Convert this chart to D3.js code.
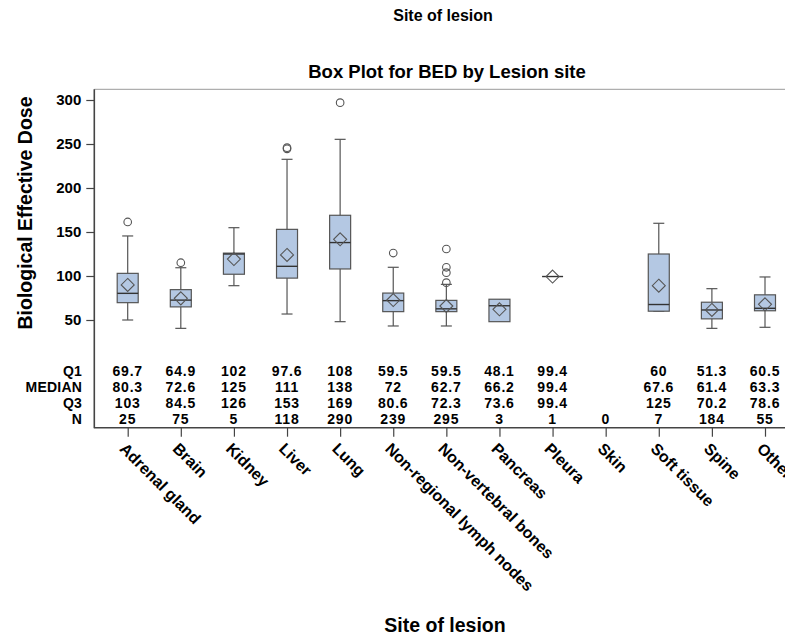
<!DOCTYPE html>
<html>
<head>
<meta charset="utf-8">
<script src="https://cdn.jsdelivr.net/npm/d3@7"></script>
<style>
  body { margin: 0; background: #fff; }
  text { font-family: "Liberation Sans", Arial, sans-serif; font-weight: bold; fill: #000; }
</style>
</head>
<body>
<svg id="graph" width="785" height="637"></svg>
<script>
// data
var sites = ["Adrenal gland", "Brain", "Kidney", "Liver", "Lung", "Non-regional lymph nodes",
    "Non-vertebral bones", "Pancreas", "Pleura", "Skin", "Soft tissue", "Spine", "Other"];
var q1 = [69.7, 64.9, 102, 97.6, 108, 59.5, 59.5, 48.1, 99.4, null, 60, 51.3, 60.5];
var median = [80.3, 72.6, 125, 111, 138, 72, 62.7, 66.2, 99.4, null, 67.6, 61.4, 63.3];
var q3 = [103, 84.5, 126, 153, 169, 80.6, 72.3, 73.6, 99.4, null, 125, 70.2, 78.6];
var counts = [25, 75, 5, 118, 290, 239, 295, 3, 1, 0, 7, 184, 55];
var whiskerLow = [50, 40.5, 89, 56.8, 48.1, 43.2, 43.2, 48.1, 99.4, null, 60, 40.5, 41.7];
var whiskerHigh = [145.5, 109.4, 154.9, 232.6, 255.3, 109.9, 90.5, 73.6, 99.4, null, 159.9, 85.6, 98.9];
var means = [89.8, 74.6, 119.3, 123.9, 141.7, 72.7, 65.9, 62.2, 99.4, null, 89, 61.4, 67.8];
var outliers = [[161.4], [115.1], [], [244.5, 245.8], [297], [126.1],
    [92.4, 103.8, 109.9, 130.7], [], [], [], [], [], []];
var yTicks = [50, 100, 150, 200, 250, 300];
var statRows = ["Q1", "MEDIAN", "Q3", "N"];

var fmt = function(v) {
    if (v === null) return "";
    return String(+v.toPrecision(3));
};

// plot frame (right edge falls outside the picture, as in the original)
var frameLeft = 94.3, frameTop = 89.3, frameBottom = 427.7, frameRight = 799;
var boxW = 21, capW = 11;

var x = d3.scalePoint().domain(sites).range([127.7, 765]);
var y = d3.scaleLinear().domain([50, 300]).range([320, 100]);

var fig = d3.select("#graph");

var rows = sites.map(function(s, i) {
    return {site: s, q1: q1[i], med: median[i], q3: q3[i], n: counts[i],
        lo: whiskerLow[i], hi: whiskerHigh[i], mean: means[i], out: outliers[i]};
});

// frame
fig.append("line").attr("x1", frameLeft).attr("x2", frameRight).attr("y1", frameTop).attr("y2", frameTop)
    .attr("stroke", "#9a9a9a").attr("stroke-width", 1);
fig.append("line").attr("x1", frameRight).attr("x2", frameRight).attr("y1", frameTop).attr("y2", frameBottom)
    .attr("stroke", "#9a9a9a");

// y axis
var yAxis = d3.axisLeft(y).tickValues(yTicks).tickSize(8).tickPadding(5).tickSizeOuter(0);
var gy = fig.append("g").attr("transform", "translate(" + frameLeft + ",0)").call(yAxis);
gy.select(".domain").remove();
gy.selectAll(".tick line").attr("stroke", "#444").attr("stroke-width", 1.2);
gy.selectAll(".tick text").style("font-size", "15px").style("font-family", "'Liberation Sans', Arial, sans-serif")
    .style("font-weight", "bold").attr("fill", "#000");
fig.append("line").attr("x1", frameLeft).attr("x2", frameLeft).attr("y1", frameTop).attr("y2", frameBottom + 0.5)
    .attr("stroke", "#444").attr("stroke-width", 1.6);

// x axis
var xAxis = d3.axisBottom(x).tickSize(9).tickFormat("").tickSizeOuter(0);
var gx = fig.append("g").attr("transform", "translate(0," + frameBottom + ")").call(xAxis);
gx.select(".domain").remove();
gx.selectAll(".tick line").attr("stroke", "#444").attr("stroke-width", 1.2);
fig.append("line").attr("x1", frameLeft).attr("x2", frameRight).attr("y1", frameBottom).attr("y2", frameBottom)
    .attr("stroke", "#444").attr("stroke-width", 1.6);

fig.append("g").selectAll("text").data(sites).enter().append("text")
    .attr("transform", function(d) {
        return "translate(" + (x(d) - 9) + "," + (frameBottom + 22) + ") rotate(45)";
    })
    .style("font-size", "16px")
    .text(function(d) { return d; });

// boxes
var boxes = fig.append("g").selectAll("g").data(rows.filter(function(d) { return d.n > 0; }))
    .enter().append("g");

boxes.append("line")
    .attr("x1", function(d) { return x(d.site); })
    .attr("x2", function(d) { return x(d.site); })
    .attr("y1", function(d) { return y(d.hi); })
    .attr("y2", function(d) { return y(d.lo); })
    .attr("stroke", "#555").attr("stroke-width", 1.2);

boxes.selectAll(".cap").data(function(d) {
        if (d.n < 5) return [];
        return [{s: d.site, v: d.hi}, {s: d.site, v: d.lo}];
    }).enter().append("line")
    .attr("class", "cap")
    .attr("x1", function(d) { return x(d.s) - capW / 2; })
    .attr("x2", function(d) { return x(d.s) + capW / 2; })
    .attr("y1", function(d) { return y(d.v); })
    .attr("y2", function(d) { return y(d.v); })
    .attr("stroke", "#555").attr("stroke-width", 1.2);

boxes.append("rect")
    .attr("x", function(d) { return x(d.site) - boxW / 2; })
    .attr("width", boxW)
    .attr("y", function(d) { return y(d.q3); })
    .attr("height", function(d) { return y(d.q1) - y(d.q3); })
    .attr("fill", "#b4c8e3")
    .attr("stroke", "#555").attr("stroke-width", 1.2);

boxes.append("line")
    .attr("x1", function(d) { return x(d.site) - boxW / 2; })
    .attr("x2", function(d) { return x(d.site) + boxW / 2; })
    .attr("y1", function(d) { return y(d.med); })
    .attr("y2", function(d) { return y(d.med); })
    .attr("stroke", "#333").attr("stroke-width", 1.4);

boxes.append("path")
    .attr("d", function(d) {
        var cx = x(d.site), cy = y(d.mean), r = 6.5;
        return "M" + cx + "," + (cy - r) + "L" + (cx + r) + "," + cy + "L" + cx + "," + (cy + r) +
            "L" + (cx - r) + "," + cy + "Z";
    })
    .attr("fill", "none").attr("stroke", "#555").attr("stroke-width", 1.1);

boxes.selectAll("circle").data(function(d) {
        return d.out.map(function(v) { return {s: d.site, v: v}; });
    }).enter().append("circle")
    .attr("cx", function(d) { return x(d.s); })
    .attr("cy", function(d) { return y(d.v); })
    .attr("r", 3.8)
    .attr("fill", "none").attr("stroke", "#555").attr("stroke-width", 1.1);

// statistics table inside the plot
var rowY = [376, 392.3, 408.3, 424.3];
var statVals = [q1, median, q3, counts];
statRows.forEach(function(name, r) {
    fig.append("text").attr("x", 82).attr("y", rowY[r]).attr("text-anchor", "end")
        .style("font-size", "14px").style("letter-spacing", "0.2px").text(name);
    fig.append("g").selectAll("text").data(sites).enter().append("text")
        .attr("x", function(d) { return x(d); })
        .attr("y", rowY[r])
        .attr("text-anchor", "middle")
        .style("font-size", "14px").style("letter-spacing", "0.8px")
        .text(function(d, i) { return r == 3 ? statVals[r][i] : fmt(statVals[r][i]); });
});

// titles
fig.append("text").attr("x", 443).attr("y", 21).attr("text-anchor", "middle")
    .style("font-size", "16px").text("Site of lesion");
fig.append("text").attr("x", 447).attr("y", 78).attr("text-anchor", "middle")
    .style("font-size", "18.5px").text("Box Plot for BED by Lesion site");
fig.append("text").attr("x", 445).attr("y", 632).attr("text-anchor", "middle")
    .style("font-size", "19.5px").text("Site of lesion");
fig.append("text").attr("transform", "translate(32,213) rotate(-90)").attr("text-anchor", "middle")
    .style("font-size", "19.5px").text("Biological Effective Dose");
</script>
</body>
</html>
